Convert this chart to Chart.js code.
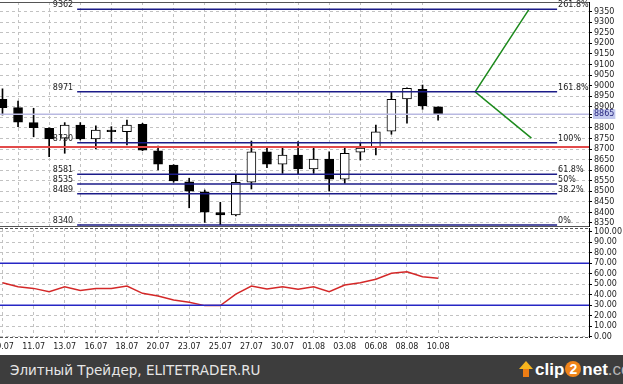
<!DOCTYPE html>
<html>
<head>
<meta charset="utf-8">
<script src="https://cdn.jsdelivr.net/npm/chart.js@4/dist/chart.umd.min.js"></script>
<style>
html,body{margin:0;padding:0;background:#fff;width:623px;height:384px;overflow:hidden;}
#wrap{position:relative;width:623px;height:384px;background:#fff;}
#pc{position:absolute;left:0;top:0;}
#rc{position:absolute;left:0;top:226px;}
#footer{position:absolute;left:0;top:355px;width:623px;height:29px;background:#3d3d3d;}
#ftxt{position:absolute;left:10px;top:7px;font:13.5px "DejaVu Sans",sans-serif;color:#e6e6e6;white-space:nowrap;}
#logo{position:absolute;left:519px;top:5px;height:20px;white-space:nowrap;font:bold 17px "Liberation Sans",Arial,sans-serif;color:#fff;}
#logo .arrow{position:relative;display:inline-block;width:14px;height:16px;vertical-align:-2px;margin-right:2px;}
#logo .arrow:before{content:"";position:absolute;left:0;top:0;border-left:7px solid transparent;border-right:7px solid transparent;border-bottom:8px solid #f7b51e;}
#logo .arrow:after{content:"";position:absolute;left:4px;top:8px;width:6px;height:8px;background:#ee7d14;}
#logo .two{display:inline-block;width:16px;height:16px;border-radius:8px;background:#f08419;color:#fff;text-align:center;line-height:16px;font-size:14px;vertical-align:1px;margin:0 1px;}
#logo .com{font-weight:normal;color:#b4b4b4;}
</style>
</head>
<body>
<div id="wrap">
  <canvas id="pc" width="623" height="228"></canvas>
  <canvas id="rc" width="623" height="129"></canvas>
  <div id="footer">
    <span id="ftxt">Элитный Трейдер, ELITETRADER.RU</span>
    <div id="logo"><span class="arrow"></span>clip<span class="two">2</span>net<span class="com">.com</span></div>
  </div>
</div>
<script>
// ---------- data ----------
const dates = ['09.07','10.07','11.07','12.07','13.07','15.07','16.07','17.07','18.07','19.07',
               '20.07','22.07','23.07','24.07','25.07','26.07','27.07','29.07','30.07','31.07',
               '01.08','02.08','03.08','05.08','06.08','07.08','08.08','09.08','10.08'];
const openP  = [8935,8896,8825,8798,8751,8814,8748,8790,8782,8817,8692,8624,8545,8498,8399,8388,8543,8687,8628,8672,8606,8653,8557,8685,8706,8785,8937,8983,8900];
const highP  = [8985,8927,8893,8800,8825,8825,8810,8806,8837,8822,8714,8626,8562,8506,8448,8580,8738,8704,8704,8735,8706,8687,8704,8727,8814,8971,8990,9003,8900];
const lowP   = [8861,8806,8758,8664,8680,8743,8700,8735,8719,8692,8601,8543,8422,8353,8342,8383,8511,8612,8585,8580,8585,8501,8538,8648,8672,8770,8822,8888,8837];
const closeP = [8896,8827,8801,8748,8814,8748,8790,8782,8814,8695,8628,8549,8501,8401,8388,8543,8687,8628,8672,8606,8653,8558,8680,8704,8782,8935,8987,8904,8866];
const rsiValues = [51.4,47.6,46.0,42.9,47.6,44.0,46.0,46.0,48.3,41.3,38.8,35.0,32.7,29.6,29.6,40.6,48.3,45.4,47.6,45.1,47.5,42.9,49.2,51.4,54.7,60.4,61.9,57.1,55.6];
const fibLevels   = [9362, 8971, 8730, 8581, 8535, 8489, 8340];
const fibPercents = ['261.8%','161.8%','100%','61.8%','50%','38.2%','0%'];
const fibSpan     = [4.8, 35.65];          // bar-index range of the Fibonacci lines
const supportLevel = 8710;                 // red horizontal line
const lastPrice    = 8865;                 // current price line / marker
const projX = [33.85, 30.38, 34.0];        // green projection (bar index)
const projY = [9362, 8971, 8752];          // green projection (price)
const rsiBands = [70, 30];
const priceTicks = [8350,8400,8450,8500,8550,8600,8650,8700,8750,8800,8850,8900,8950,9000,9050,9100,9150,9200,9250,9300,9350];
const rsiTicks = [0,10,20,30,40,50,60,70,80,90,100];

// ---------- shared settings ----------
const X_MIN = -0.16, X_MAX = 37.7;
const FONT = {family:'"DejaVu Sans", sans-serif', size:8};
const GRID = '#c2c2c2';
const lastIdx = dates.length - 1;

function vGridColor(ctx){
  if (!ctx.tick) return 'rgba(0,0,0,0)';
  const v = ctx.tick.value;
  return (v >= 0 && v <= lastIdx) ? GRID : 'rgba(0,0,0,0)';
}

function framePlugin(topDash){
  return {
    id:'frame',
    afterDraw(chart){
      const {ctx, chartArea:a} = chart;
      ctx.save();
      ctx.lineWidth = 1;
      ctx.strokeStyle = '#000';
      ctx.setLineDash([]);
      ctx.beginPath(); ctx.moveTo(a.right+0.5, a.top); ctx.lineTo(a.right+0.5, a.bottom+1); ctx.stroke();
      ctx.strokeStyle = '#555';
      ctx.setLineDash(topDash ? [3,2] : []);
      ctx.beginPath(); ctx.moveTo(a.left, a.top+0.5); ctx.lineTo(a.right, a.top+0.5); ctx.stroke();
      ctx.beginPath(); ctx.moveTo(a.left, a.bottom+0.5); ctx.lineTo(a.right, a.bottom+0.5); ctx.stroke();
      ctx.restore();
    }
  };
}

const fibText = {
  id:'fibText',
  afterDatasetsDraw(chart){
    const {ctx, scales:{x, y}} = chart;
    ctx.save();
    ctx.font = '8px "DejaVu Sans", sans-serif';
    ctx.fillStyle = '#222';
    ctx.textBaseline = 'alphabetic';
    fibLevels.forEach((lv, k) => {
      const py = y.getPixelForValue(lv) - 2;
      ctx.textAlign = 'right';
      ctx.fillText(String(lv), x.getPixelForValue(fibSpan[0]) - 4, py);
      ctx.textAlign = 'left';
      ctx.fillText(fibPercents[k], x.getPixelForValue(fibSpan[1]) + 1, py);
    });
    ctx.restore();
  }
};

function hLine(level, x0, x1, color, width, order){
  return {type:'line', data:[{x:x0, y:level},{x:x1, y:level}], borderColor:color, borderWidth:width,
          pointRadius:0, fill:false, order:order};
}

// ---------- price chart ----------
const priceDatasets = [
  {type:'bar', label:'wick', data: dates.map((d,i)=>({x:i, y:[lowP[i], highP[i]]})),
   backgroundColor:'#000', borderWidth:0, barThickness:1, grouped:false, order:3},
  {type:'bar', label:'body', data: dates.map((d,i)=>({x:i, y:[openP[i], closeP[i]]})),
   backgroundColor: dates.map((d,i)=> closeP[i] >= openP[i] ? '#fff' : '#000'),
   borderColor:'#000', borderWidth:1, borderSkipped:false, barThickness:9, grouped:false, order:2},
  hLine(lastPrice, X_MIN, X_MAX, '#b9b9e2', 1.5, 1),
  hLine(supportLevel, X_MIN, X_MAX, '#e24a4a', 2, 1),
  ...fibLevels.map(lv => hLine(lv, fibSpan[0], fibSpan[1], '#1c1c88', 1.5, 0)),
  {type:'line', data: projX.map((v,i)=>({x:v, y:projY[i]})), borderColor:'#1d8a1d', borderWidth:1.5,
   pointRadius:0, fill:false, order:0}
];

new Chart(document.getElementById('pc'), {
  type:'bar',
  data:{datasets: priceDatasets},
  options:{
    responsive:false, animation:false, events:[],
    layout:{padding:{left:0, right:0, top:2, bottom:2}},
    plugins:{legend:{display:false}, tooltip:{enabled:false}},
    scales:{
      x:{type:'linear', min:X_MIN, max:X_MAX, offset:false,
         ticks:{display:false, stepSize:2, includeBounds:false, autoSkip:false},
         grid:{color:vGridColor, drawTicks:false, lineWidth:1},
         border:{display:false, dash:[3,3]},
         afterFit(s){ s.height = 0; s.paddingLeft = 0; s.paddingRight = 0; }
      },
      y:{type:'linear', position:'right', min:8335.8, max:9395.9,
         afterBuildTicks(s){ s.ticks = priceTicks.map(v=>({value:v})).concat([{value:lastPrice}]); },
         ticks:{autoSkip:false, font:FONT, padding:2,
                color: c => (c.tick && c.tick.value === lastPrice) ? '#2a2a80' : '#222',
                showLabelBackdrop: c => !!(c.tick && c.tick.value === lastPrice),
                backdropColor:'#c3c9ee', backdropPadding:{left:1,right:1,top:0,bottom:0},
                callback: v => String(v)},
         grid:{color: c => (c.tick && c.tick.value === lastPrice) ? 'rgba(0,0,0,0)' : GRID,
               tickLength:3, tickColor:'#000', lineWidth:1},
         border:{display:false, dash:[3,3]},
         afterFit(s){ s.width = 34; s.paddingTop = 0; s.paddingBottom = 0; }
      }
    }
  },
  plugins:[framePlugin(false), fibText]
});

// ---------- RSI chart ----------
new Chart(document.getElementById('rc'), {
  type:'line',
  data:{datasets:[
    {data: rsiValues.map((v,i)=>({x:i, y:v})), borderColor:'#d42828', borderWidth:1.5,
     pointRadius:0, fill:false, order:2},
    ...rsiBands.map(b => hLine(b, X_MIN, X_MAX, '#2626c4', 1.5, 1))
  ]},
  options:{
    responsive:false, animation:false, events:[],
    layout:{padding:{left:0, right:0, top:2, bottom:0}},
    plugins:{legend:{display:false}, tooltip:{enabled:false}},
    scales:{
      x:{type:'linear', min:X_MIN, max:X_MAX, offset:false,
         ticks:{stepSize:2, includeBounds:false, autoSkip:false, maxRotation:0, font:FONT, color:'#222', padding:5,
                callback: v => (Number.isInteger(v) && v >= 0 && v <= lastIdx && v % 2 === 0) ? dates[v] : ''},
         grid:{color:vGridColor, drawTicks:false, lineWidth:1},
         border:{display:false, dash:[3,3]},
         afterFit(s){ s.height = 18; s.paddingLeft = 0; s.paddingRight = 0; }
      },
      y:{type:'linear', position:'right', min:-0.29, max:103.5,
         afterBuildTicks(s){ s.ticks = rsiTicks.map(v=>({value:v})); },
         ticks:{autoSkip:false, font:FONT, color:'#222', padding:2, callback: v => Number(v).toFixed(2)},
         grid:{color:GRID, tickLength:3, tickColor:'#000', lineWidth:1},
         border:{display:false, dash:[3,3]},
         afterFit(s){ s.width = 34; s.paddingTop = 0; s.paddingBottom = 0; }
      }
    }
  },
  plugins:[framePlugin(true)]
});
</script>
</body>
</html>
